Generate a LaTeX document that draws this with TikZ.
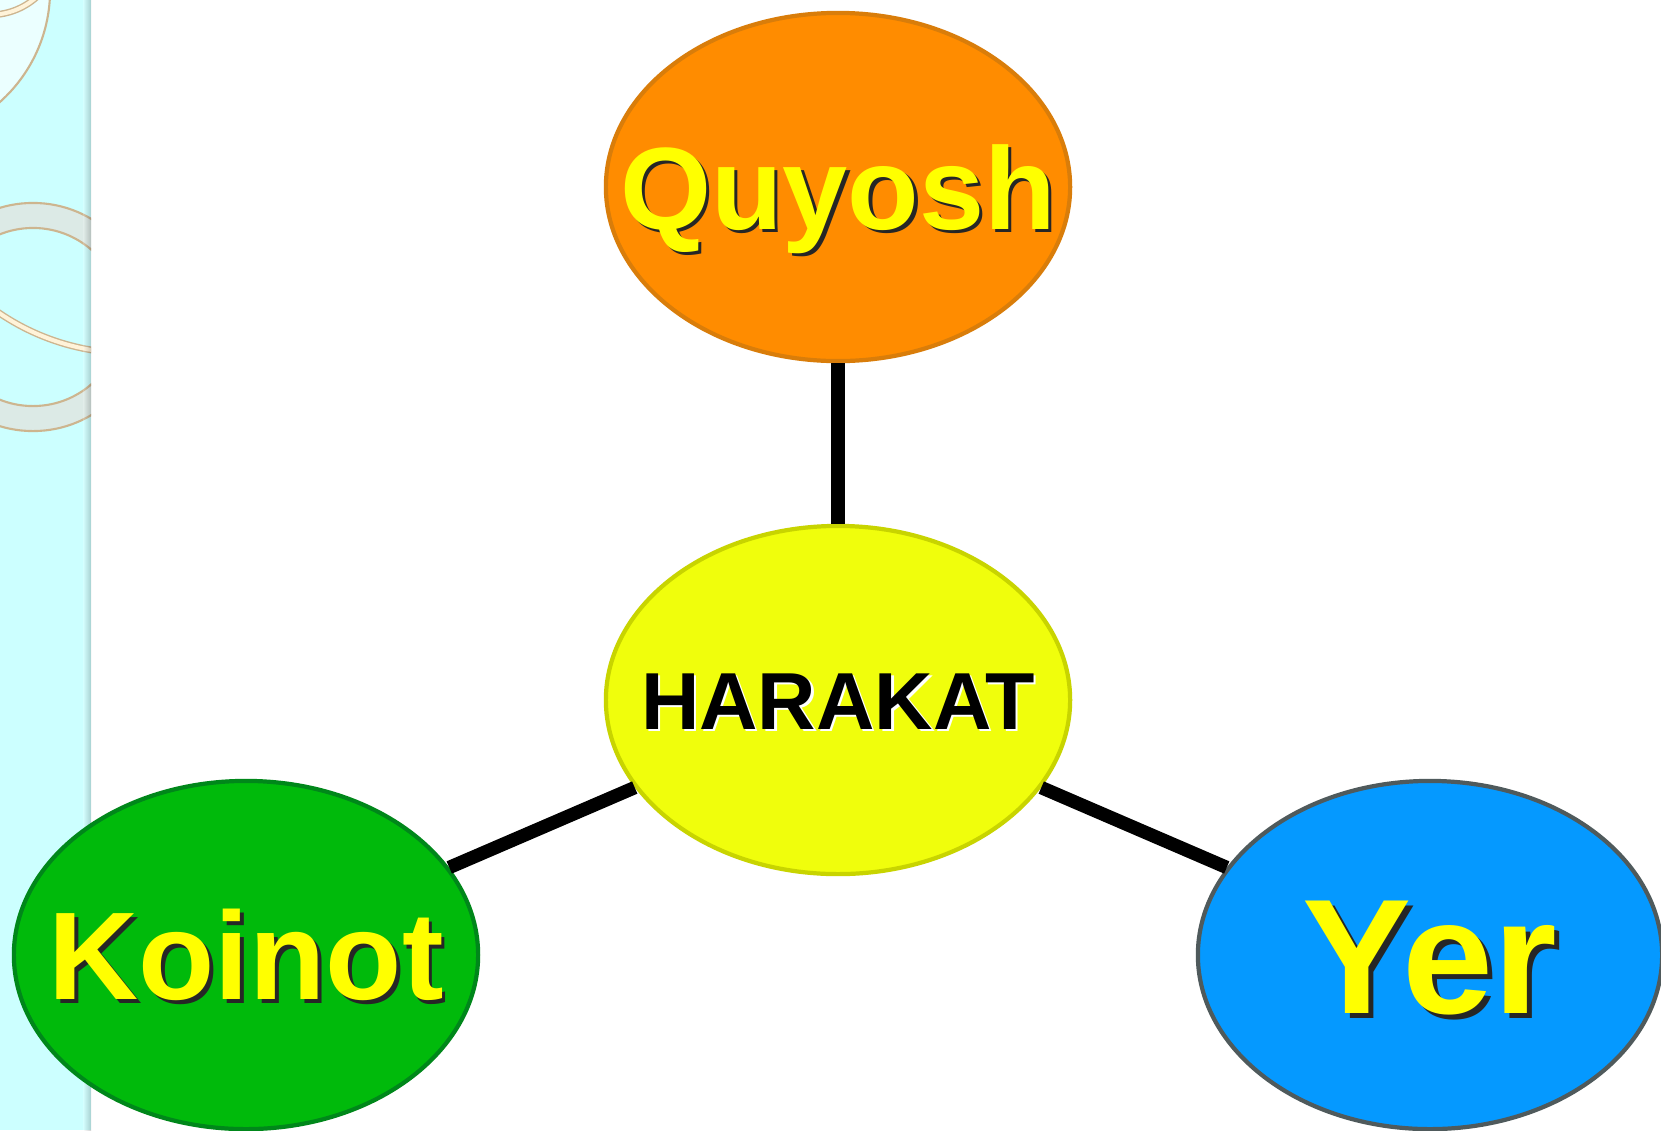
\documentclass[tikz,border=0pt]{standalone}
\usepackage{fontspec}
\setmainfont{Liberation Sans}
\usepackage{xcolor}
\usetikzlibrary{shapes.geometric}

\definecolor{quyoshfill}{HTML}{FF8C00}
\definecolor{quyoshline}{HTML}{D97D0A}
\definecolor{harakatfill}{HTML}{F0FE0C}
\definecolor{harakatline}{HTML}{C8D400}
\definecolor{koinotfill}{HTML}{00BA0B}
\definecolor{koinotline}{HTML}{00871A}
\definecolor{yerfill}{HTML}{0599FF}
\definecolor{yerline}{HTML}{4F5A5C}
\definecolor{labelyellow}{HTML}{FFFF00}
\definecolor{stripcyan}{HTML}{CCFFFF}
\definecolor{ringband}{HTML}{DCEAE6}
\definecolor{ringedge}{HTML}{CDB58F}
\definecolor{ringcream}{HTML}{FFF3D9}

% text with a drop shadow: size, colour, shadow colour, text
\newcommand{\planettext}[4]{{\fontsize{#1}{#1}\selectfont\makebox[0pt]{\smash{\raisebox{-.36em}{\rlap{\kern.03em\raisebox{-.03em}{\color{#3}#4}}\color{#2}#4}}}}}

\begin{document}
\begin{tikzpicture}[x=0.01cm,y=-0.01cm,
    planet/.style={ellipse,line width=1.2pt,minimum width=4.64cm,minimum height=3.48cm,inner sep=0pt,font=\bfseries},
    link/.style={line width=3.8pt}]
        \useasboundingbox (0,0) rectangle (1661,1130);
        \fill[white] (0,0) rectangle (1661,1130);

        % Left strip with rings
        \fill[stripcyan] (0,0) rectangle (91,1130);
        \begin{scope}
            \clip (0,0) rectangle (91,1130);
            \draw[ringedge,fill=stripcyan!40!white,line width=0.6pt] (-100,-10) circle (1.5cm);
            \draw[ringedge,double=ringcream,double distance=0.04cm,line width=0.4pt] (-10,-55) circle (0.698cm);
            \fill[ringband,even odd rule] (33,317) circle (1.14cm) (33,317) circle (0.89cm);
            \draw[ringedge,line width=0.6pt] (33,317) circle (1.14cm);
            \draw[ringedge,line width=0.6pt] (33,317) circle (0.89cm);
            \draw[ringedge,double=ringcream,double distance=0.04cm,line width=0.4pt] (130,120) circle (2.33cm);
        \end{scope}
        \shade[left color=stripcyan!0!white,right color=black,opacity=0.18] (83,0) rectangle (91,1130);

        % Ellipses
        \node[planet,draw=quyoshline,fill=quyoshfill] (quyosh) at (838,187) {\planettext{33.3}{labelyellow}{black!85}{Quyosh}};
        \node[planet,draw=harakatline,fill=harakatfill] (harakat) at (838,700) {\planettext{23}{black}{white}{HARAKAT}};
        \node[planet,draw=koinotline,fill=koinotfill] (koinot) at (246,955) {\planettext{35.5}{labelyellow}{black!85}{Koinot}};
        \node[planet,draw=yerline,fill=yerfill] (yer) at (1430,955) {\planettext{46.5}{labelyellow}{black!85}{Yer}};

        % Links
        \draw[link] (quyosh) -- (harakat);
        \draw[link] (harakat) -- (koinot);
        \draw[link] (harakat) -- (yer);
\end{tikzpicture}
\end{document}
